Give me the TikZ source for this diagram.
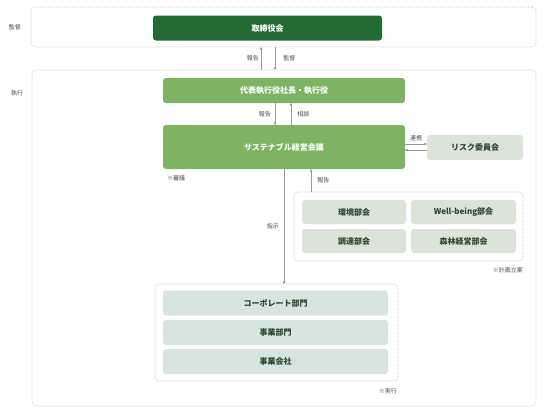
\documentclass[tikz,border=0pt]{standalone}
\usepackage{fontspec}
\setmainfont{Noto Sans CJK JP}
\usetikzlibrary{arrows.meta}
\definecolor{darkgrn}{HTML}{236A33}
\definecolor{midgrn}{HTML}{7EB363}
\definecolor{palegrn}{HTML}{DCE3D9}
\definecolor{palecyan}{HTML}{D8E4DF}
\definecolor{txtgrn}{HTML}{2C4630}
\definecolor{lblgray}{HTML}{4A4A4A}

\begin{document}
\begin{tikzpicture}[x=1pt, y=-1pt, >={Triangle[length=2.6pt,width=2.6pt]},
    box/.style={rounded corners=3pt, outer sep=0pt, inner sep=0pt,
      font=\fontsize{8}{9}\selectfont\bfseries},
    topbox/.style={box, fill=darkgrn, text=white},
    mainbox/.style={box, fill=midgrn, text=white},
    subbox/.style={box, fill=palegrn, text=txtgrn},
    unitbox/.style={box, fill=palecyan, text=txtgrn},
    grp/.style={draw=gray!55, densely dotted, line width=0.6pt, rounded corners=4pt,
      outer sep=0pt, inner sep=0pt},
    lbl/.style={font=\fontsize{6}{7}\selectfont, text=lblgray, inner sep=1pt},
    flow/.style={->, draw=gray!80, line width=0.5pt}]
\useasboundingbox (0,0) rectangle (553,416);

% groups
\node[grp, minimum width=505, minimum height=40] (kantoku) at (283.5,27) {};
\node[grp, minimum width=504, minimum height=336] (shikko) at (284,238) {};
\node[grp, minimum width=229, minimum height=69] (bukai) at (408.5,226.5) {};
\node[grp, minimum width=243, minimum height=97] (jikko) at (276.5,332.5) {};
\node[lbl] (kantokulbl) at (15,27) {監督};
\node[lbl] (shikkolbl) at (17,93) {執行};

% boxes
\node[topbox, minimum width=229, minimum height=25] (board) at (267.5,28) {取締役会};
\node[mainbox, minimum width=242, minimum height=25] (ceo) at (284,90.5) {代表執行役社長・執行役};
\node[mainbox, minimum width=242, minimum height=44] (sust) at (284,147) {サステナブル経営会議};
\node[subbox, minimum width=96, minimum height=25] (risk) at (475,147.5) {リスク委員会};
\node[subbox, minimum width=104, minimum height=24] (env) at (354,212) {環境部会};
\node[subbox, minimum width=105, minimum height=24] (wb) at (463.5,212) {Well-being部会};
\node[subbox, minimum width=104, minimum height=24] (proc) at (354,241) {調達部会};
\node[subbox, minimum width=105, minimum height=24] (forest) at (463.5,241) {森林経営部会};
\node[unitbox, minimum width=225, minimum height=25] (corp) at (275.5,303) {コーポレート部門};
\node[unitbox, minimum width=225, minimum height=25] (biz) at (275.5,332.5) {事業部門};
\node[unitbox, minimum width=225, minimum height=25] (group) at (275.5,361.5) {事業会社};

% notes
\node[lbl, anchor=west] (shingi) at (166,178) {※審議};
\node[lbl, anchor=east] (keikaku) at (524,270) {※計画立案};
\node[lbl, anchor=east] (jikkonote) at (398,391) {※実行};

% connectors
\draw[flow] (261,0 |- shikko.north) -- (261,0 |- kantoku.south)
  node[lbl, midway, left=1pt] (rep1) {報告};
\draw[flow] (275,0 |- kantoku.south) -- (275,0 |- shikko.north)
  node[lbl, midway, right=7pt] (sup1) {監督};
\draw[flow] (275,0 |- ceo.south) -- (275,0 |- sust.north)
  node[lbl, midway, left=3pt] (rep2) {報告};
\draw[flow] (291,0 |- sust.north) -- (291,0 |- ceo.south)
  node[lbl, midway, right=5pt] (consult) {相談};
\draw[flow] (sust.east |- 0,144) -- (risk.west |- 0,144)
  node[lbl, midway, above=2pt] (renkei) {連携};
\draw[flow] (risk.west |- 0,150) -- (sust.east |- 0,150);
\draw[flow] (284,0 |- sust.south) -- (284,0 |- jikko.north)
  node[lbl, pos=0.5, left=4pt] (shiji) {指示};
\draw[flow] (311,0 |- bukai.north) -- (311,0 |- sust.south)
  node[lbl, midway, right=5pt] (rep3) {報告};
\end{tikzpicture}
\end{document}
